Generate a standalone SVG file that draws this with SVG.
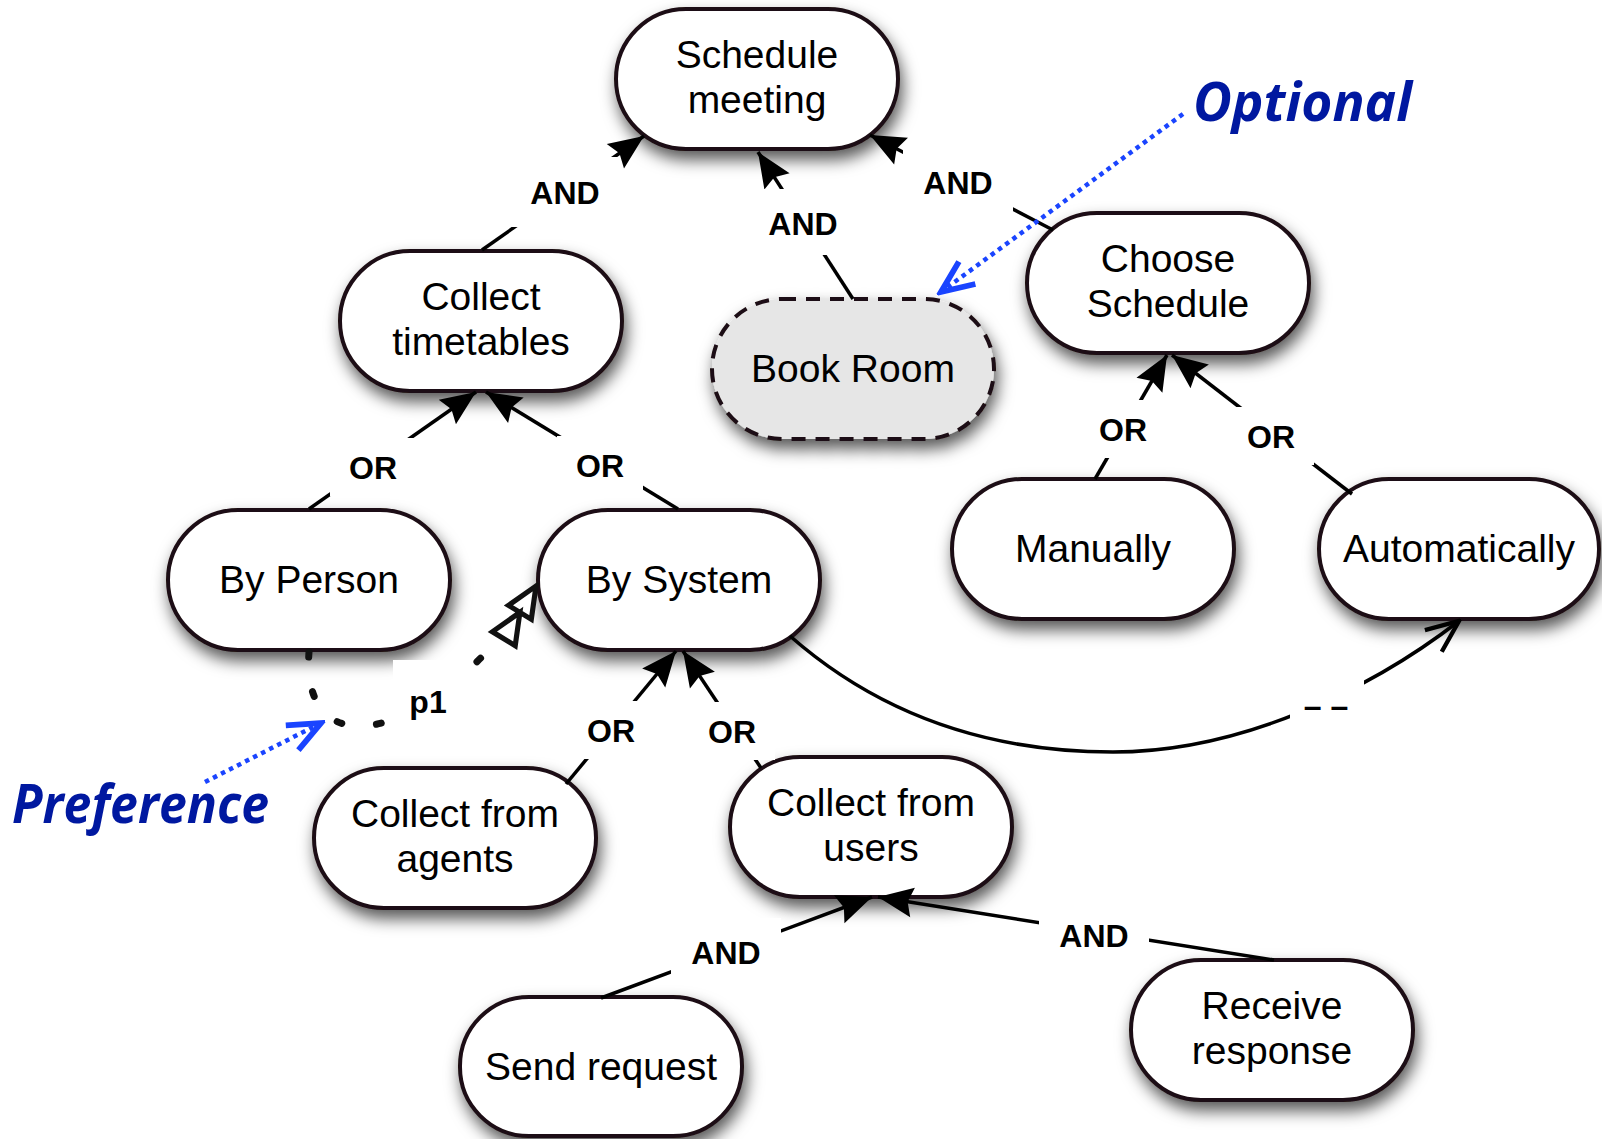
<svg xmlns="http://www.w3.org/2000/svg" width="1602" height="1139" viewBox="0 0 1602 1139">
  <style>
    .node rect { fill: #ffffff; stroke: #1d0e12; stroke-width: 4; filter: url(#shadow); }
    .node.optional rect { fill: #e6e6e6; stroke-dasharray: 14 10; }
    .node text { font-family: "Liberation Sans", Arial, sans-serif; font-size: 39px; fill: #000; text-anchor: middle; }
    .link { fill: none; stroke: #000; stroke-width: 3.5; }
    .decomp { marker-end: url(#filled); }
    .pref { fill: none; stroke: #111; stroke-width: 7; stroke-linecap: round; stroke-dasharray: 5 35; marker-end: url(#double-open); }
    .contrib { marker-end: url(#open-v); }
    .note-line { fill: none; stroke: #1a44ff; stroke-width: 4.5; stroke-dasharray: 4.5 4.5; marker-end: url(#blue-v); }
    .lbl-bg { fill: #ffffff; }
    .lbl { font-family: "Liberation Sans", Arial, sans-serif; font-weight: bold; font-size: 32px; fill: #000; text-anchor: middle; }
    .note { font-family: "Open Sans", "Noto Sans", sans-serif; font-weight: bold; font-style: italic; font-size: 53px; fill: #0018a0; }
  </style>
  <defs>
    <filter id="shadow" x="-20%" y="-20%" width="140%" height="160%">
      <feDropShadow dx="3" dy="9" stdDeviation="8" flood-color="#000" flood-opacity="0.65"/>
    </filter>
    <marker id="filled" markerUnits="userSpaceOnUse" markerWidth="40" markerHeight="40" viewBox="-30 -15 32 30" refX="0" refY="0" orient="auto">
      <path d="M0,0 L-28,-12 L-24,0 L-28,12 Z" fill="#000"/>
    </marker>
    <marker id="open-v" markerUnits="userSpaceOnUse" markerWidth="40" markerHeight="40" viewBox="-30 -15 32 30" refX="0" refY="0" orient="auto">
      <path d="M-26,-11 L0,0 L-26,11" fill="none" stroke="#000" stroke-width="3.5"/>
    </marker>
    <marker id="blue-v" markerUnits="userSpaceOnUse" markerWidth="44" markerHeight="44" viewBox="-34 -18 38 36" refX="0" refY="0" orient="auto">
      <path d="M-28,-12 L0,0 L-28,12" fill="none" stroke="#1a44ff" stroke-width="5"/>
    </marker>
    <marker id="double-open" markerUnits="userSpaceOnUse" markerWidth="70" markerHeight="40" viewBox="-64 -18 68 36" refX="0" refY="0" orient="auto">
      <path d="M0,0 L-30,-13 L-30,13 Z M-30,0 L-60,-13 L-60,13 Z" fill="#fff" stroke="#111" stroke-width="5" stroke-linejoin="miter"/>
    </marker>
  </defs>

  <rect width="1602" height="1139" fill="#ffffff"/>

  <!-- goal nodes -->
  <g id="schedule-meeting" class="node">
    <rect x="616" y="9" width="282" height="140" rx="70"/>
    <text x="757" y="68">Schedule</text>
    <text x="757" y="113">meeting</text>
  </g>
  <g id="collect-timetables" class="node">
    <rect x="340" y="251" width="282" height="140" rx="70"/>
    <text x="481" y="310">Collect</text>
    <text x="481" y="355">timetables</text>
  </g>
  <g id="book-room" class="node optional">
    <rect x="712" y="299" width="282" height="140" rx="70"/>
    <text x="853" y="382">Book Room</text>
  </g>
  <g id="choose-schedule" class="node">
    <rect x="1027" y="213" width="282" height="140" rx="70"/>
    <text x="1168" y="272">Choose</text>
    <text x="1168" y="317">Schedule</text>
  </g>
  <g id="by-person" class="node">
    <rect x="168" y="510" width="282" height="140" rx="70"/>
    <text x="309" y="593">By Person</text>
  </g>
  <g id="by-system" class="node">
    <rect x="538" y="510" width="282" height="140" rx="70"/>
    <text x="679" y="593">By System</text>
  </g>
  <g id="manually" class="node">
    <rect x="952" y="479" width="282" height="140" rx="70"/>
    <text x="1093" y="562">Manually</text>
  </g>
  <g id="automatically" class="node">
    <rect x="1319" y="479" width="280" height="140" rx="70"/>
    <text x="1459" y="562">Automatically</text>
  </g>
  <g id="collect-from-agents" class="node">
    <rect x="314" y="768" width="282" height="140" rx="70"/>
    <text x="455" y="827">Collect from</text>
    <text x="455" y="872">agents</text>
  </g>
  <g id="collect-from-users" class="node">
    <rect x="730" y="757" width="282" height="140" rx="70"/>
    <text x="871" y="816">Collect from</text>
    <text x="871" y="861">users</text>
  </g>
  <g id="send-request" class="node">
    <rect x="460" y="997" width="282" height="139" rx="69"/>
    <text x="601" y="1080">Send request</text>
  </g>
  <g id="receive-response" class="node">
    <rect x="1131" y="960" width="282" height="140" rx="70"/>
    <text x="1272" y="1019">Receive</text>
    <text x="1272" y="1064">response</text>
  </g>

  <!-- connectors -->
  <g id="connectors">
    <line class="link decomp" x1="482" y1="250" x2="644" y2="136"/>
    <line class="link decomp" x1="853" y1="299" x2="758" y2="152"/>
    <line class="link decomp" x1="1053" y1="230" x2="870" y2="135"/>
    <line class="link decomp" x1="309" y1="509" x2="476" y2="392"/>
    <line class="link decomp" x1="678" y1="509" x2="486" y2="392"/>
    <line class="link decomp" x1="1095" y1="479" x2="1167" y2="355"/>
    <line class="link decomp" x1="1352" y1="494" x2="1172" y2="355"/>
    <line class="link decomp" x1="566" y1="784" x2="676" y2="651"/>
    <line class="link decomp" x1="761" y1="768" x2="683" y2="651"/>
    <line class="link decomp" x1="601" y1="998" x2="872" y2="897"/>
    <line class="link decomp" x1="1274" y1="960" x2="878" y2="897"/>
    <path class="link contrib" d="M790,636 C880,715 990,752 1113,752 C1240,752 1370,690 1459,621"/>
    <path class="pref" d="M309,652 C300,778 445,735 536,586"/>

    <!-- label backgrounds -->
    <rect class="lbl-bg" x="510" y="157" width="110" height="70"/>
    <rect class="lbl-bg" x="748" y="189" width="110" height="66"/>
    <rect class="lbl-bg" x="903" y="150" width="110" height="64"/>
    <rect class="lbl-bg" x="330" y="438" width="86" height="58"/>
    <rect class="lbl-bg" x="557" y="436" width="86" height="58"/>
    <rect class="lbl-bg" x="1080" y="400" width="86" height="58"/>
    <rect class="lbl-bg" x="1228" y="407" width="86" height="58"/>
    <rect class="lbl-bg" x="568" y="701" width="86" height="58"/>
    <rect class="lbl-bg" x="689" y="702" width="86" height="58"/>
    <rect class="lbl-bg" x="671" y="918" width="110" height="66"/>
    <rect class="lbl-bg" x="1039" y="902" width="110" height="66"/>
    <rect class="lbl-bg" x="393" y="660" width="70" height="82"/>
    <rect class="lbl-bg" x="1290" y="680" width="74" height="50"/>

    <text class="lbl" x="565" y="204">AND</text>
    <text class="lbl" x="803" y="235">AND</text>
    <text class="lbl" x="958" y="194">AND</text>
    <text class="lbl" x="373" y="479">OR</text>
    <text class="lbl" x="600" y="477">OR</text>
    <text class="lbl" x="1123" y="441">OR</text>
    <text class="lbl" x="1271" y="448">OR</text>
    <text class="lbl" x="611" y="742">OR</text>
    <text class="lbl" x="732" y="743">OR</text>
    <text class="lbl" x="726" y="964">AND</text>
    <text class="lbl" x="1094" y="947">AND</text>
    <text class="lbl" x="428" y="713">p1</text>
    <text class="lbl" x="1326" y="717">– –</text>
  </g>

  <!-- annotations -->
  <g id="optional-note">
    <line class="note-line" x1="1183" y1="114" x2="941" y2="292"/>
    <text class="note" x="1193" y="121" textLength="219" lengthAdjust="spacingAndGlyphs">Optional</text>
  </g>
  <g id="preference-note">
    <line class="note-line" x1="205" y1="782" x2="321" y2="723"/>
    <text class="note" x="12" y="823" textLength="257" lengthAdjust="spacingAndGlyphs">Preference</text>
  </g>
</svg>
